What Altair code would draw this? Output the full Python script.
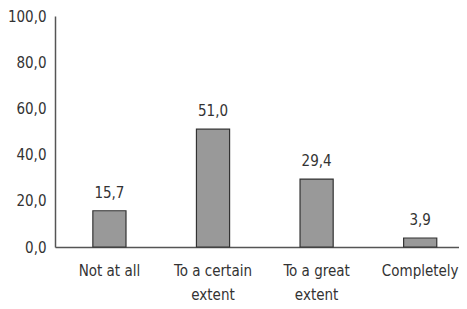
import altair as alt
import pandas as pd

categories = ["Not at all", "To a certain|extent", "To a great|extent", "Completely"]
values = [15.7, 51.0, 29.4, 3.9]
y_ticks = [0, 20, 40, 60, 80, 100]

df = pd.DataFrame({"cat": categories, "val": values})
df["lab"] = [f"{v:.1f}".replace(".", ",") for v in values]

FONT = "DejaVu Sans Condensed"

base = alt.Chart(df).encode(
    x=alt.X("cat:N", sort=categories, title=None,
            scale=alt.Scale(paddingInner=0.68, paddingOuter=0.29, align=0.63),
            axis=alt.Axis(labelExpr="split(datum.label, '|')", labelAngle=0,
                          ticks=False, labelPadding=16, labelFontSize=15,
                          labelFont=FONT, labelColor="#333", labelLineHeight=24,
                          domainColor="#555", domainWidth=1.5, labelBaseline="top")),
)

bars = base.mark_bar(color="#999999", stroke="#333333", strokeWidth=1.2).encode(
    y=alt.Y("val:Q", title=None, scale=alt.Scale(domain=[0, 100]),
            axis=alt.Axis(values=y_ticks, ticks=False, grid=False, labelPadding=9,
                          labelExpr="replace(format(datum.value, '.1f'), '.', ',')",
                          labelFontSize=15, labelFont=FONT, labelColor="#333",
                          domainColor="#555", domainWidth=1.5))
)

text = base.mark_text(dy=-18, fontSize=15, font=FONT, color="#333").encode(
    y=alt.Y("val:Q"), text="lab:N"
)

chart = (bars + text).properties(
    width=404, height=231,
    autosize=alt.AutoSizeParams(type="none"),
    padding={"left": 47, "top": 8, "right": 0, "bottom": 62},
).configure_view(stroke=None)

chart.save("out.html", embed_options={"renderer": "svg", "actions": False})
